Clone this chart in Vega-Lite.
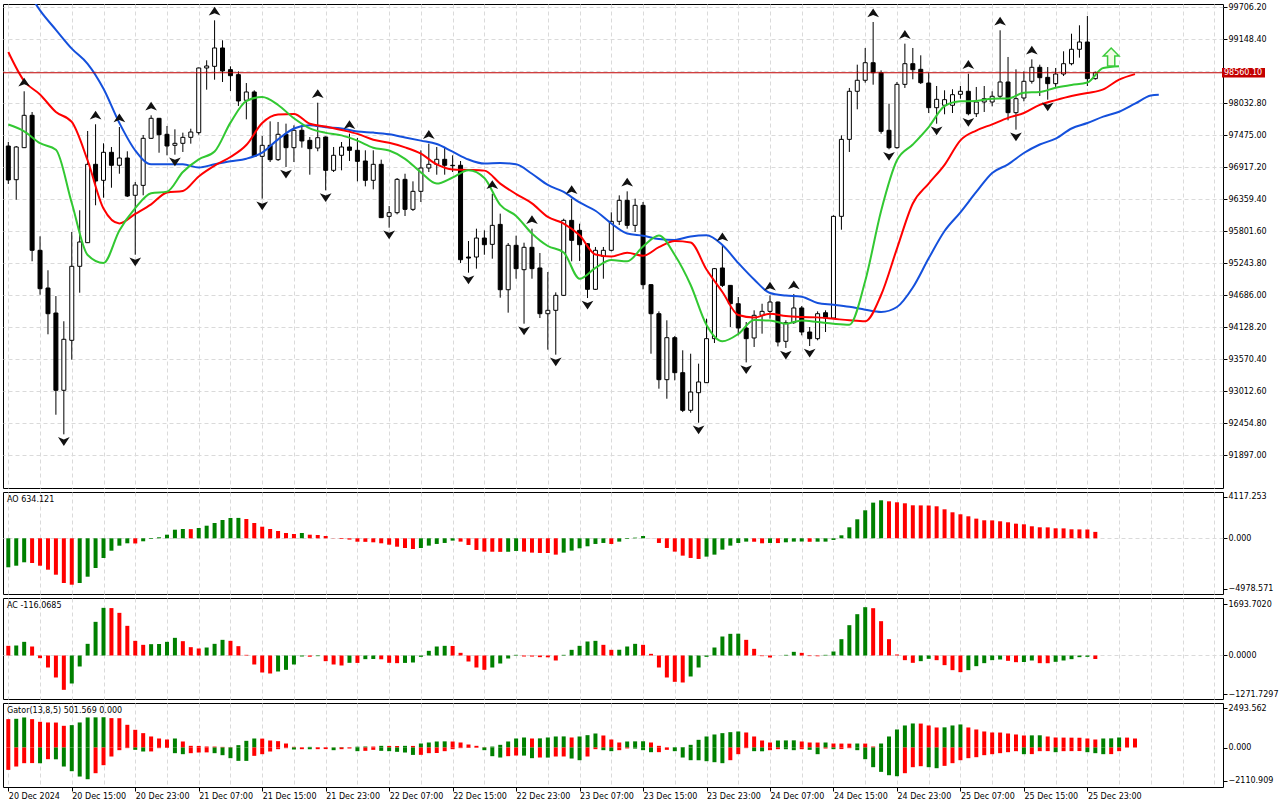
{
  "$schema": "https://vega.github.io/schema/vega-lite/v6.json",
  "background": "white",
  "padding": {"left": 2, "top": 2, "right": 0, "bottom": 0},
  "spacing": 2,
  "config": {
    "view": {"stroke": "black", "strokeWidth": 1},
    "axis": {"labelFont": "DejaVu Sans", "labelFontSize": 8, "labelColor": "black", "tickColor": "black", "gridColor": "#DADADA", "gridDash": [4, 3], "labelOverlap": false},
    "title": {"font": "DejaVu Sans", "fontSize": 8, "fontWeight": "normal", "color": "black", "anchor": "start", "offset": -12, "dx": 4}
  },
  "datasets": {
    "bars": [
      {"t":"2024-12-20T07:00Z","o":97283,"h":97353,"l":96621,"c":96691,"ao":-2865,"ac":319},
      {"t":"2024-12-20T08:00Z","o":96696,"h":97283,"l":96347,"c":97266,"ao":-2707,"ac":330},
      {"t":"2024-12-20T09:00Z","o":97254,"h":98237,"l":97248,"c":97818,"ao":-2371,"ac":451,"fu":1},
      {"t":"2024-12-20T10:00Z","o":97818,"h":97876,"l":95274,"c":95465,"ao":-2440,"ac":297},
      {"t":"2024-12-20T11:00Z","o":95465,"h":95709,"l":94691,"c":94796,"ao":-2707,"ac":-88},
      {"t":"2024-12-20T12:00Z","o":94808,"h":95117,"l":94001,"c":94360,"ao":-3102,"ac":-396},
      {"t":"2024-12-20T13:00Z","o":94372,"h":94668,"l":92599,"c":93025,"ao":-3596,"ac":-726},
      {"t":"2024-12-20T14:00Z","o":93025,"h":94228,"l":92257,"c":93914,"ao":-4416,"ac":-1133,"fd":1},
      {"t":"2024-12-20T15:00Z","o":93896,"h":95784,"l":93559,"c":95186,"ao":-4584,"ac":-924},
      {"t":"2024-12-20T16:00Z","o":95186,"h":96163,"l":94726,"c":95610,"ao":-4416,"ac":-363},
      {"t":"2024-12-20T17:00Z","o":95598,"h":97545,"l":95592,"c":96964,"ao":-3794,"ac":385},
      {"t":"2024-12-20T18:00Z","o":96964,"h":97662,"l":96250,"c":96673,"ao":-2934,"ac":1111,"fu":1},
      {"t":"2024-12-20T19:00Z","o":96685,"h":97330,"l":96382,"c":97173,"ao":-1946,"ac":1573},
      {"t":"2024-12-20T20:00Z","o":97173,"h":97266,"l":96556,"c":96947,"ao":-1225,"ac":1565},
      {"t":"2024-12-20T21:00Z","o":96947,"h":97614,"l":96800,"c":97074,"ao":-731,"ac":1408,"fu":1},
      {"t":"2024-12-20T22:00Z","o":97074,"h":97191,"l":96394,"c":96411,"ao":-494,"ac":979},
      {"t":"2024-12-20T23:00Z","o":96424,"h":96655,"l":95388,"c":96603,"ao":-510,"ac":484,"fd":1},
      {"t":"2024-12-21T00:00Z","o":96597,"h":97475,"l":96424,"c":97417,"ao":-296,"ac":352},
      {"t":"2024-12-21T01:00Z","o":97417,"h":97818,"l":97405,"c":97766,"ao":-69,"ac":374,"fu":1},
      {"t":"2024-12-21T02:00Z","o":97766,"h":97772,"l":97166,"c":97480,"ao":99,"ac":380},
      {"t":"2024-12-21T03:00Z","o":97487,"h":97632,"l":97121,"c":97283,"ao":356,"ac":451},
      {"t":"2024-12-21T04:00Z","o":97295,"h":97574,"l":97132,"c":97330,"ao":850,"ac":583,"fd":1},
      {"t":"2024-12-21T05:00Z","o":97330,"h":97516,"l":97179,"c":97434,"ao":919,"ac":473},
      {"t":"2024-12-21T06:00Z","o":97434,"h":97585,"l":97324,"c":97527,"ao":905,"ac":275},
      {"t":"2024-12-21T07:00Z","o":97516,"h":98650,"l":97480,"c":98643,"ao":1018,"ac":231},
      {"t":"2024-12-21T08:00Z","o":98643,"h":98777,"l":98265,"c":98678,"ao":1245,"ac":264},
      {"t":"2024-12-21T09:00Z","o":98672,"h":99474,"l":98439,"c":98992,"ao":1512,"ac":385,"fu":1},
      {"t":"2024-12-21T10:00Z","o":98992,"h":99126,"l":98399,"c":98591,"ao":1808,"ac":517},
      {"t":"2024-12-21T11:00Z","o":98614,"h":98672,"l":98242,"c":98509,"ao":2006,"ac":484},
      {"t":"2024-12-21T12:00Z","o":98527,"h":98585,"l":97981,"c":98068,"ao":2015,"ac":308},
      {"t":"2024-12-21T13:00Z","o":98080,"h":98381,"l":97748,"c":98225,"ao":1907,"ac":22},
      {"t":"2024-12-21T14:00Z","o":98225,"h":98254,"l":97091,"c":97103,"ao":1512,"ac":-297},
      {"t":"2024-12-21T15:00Z","o":97103,"h":97458,"l":96365,"c":97295,"ao":1146,"ac":-561,"fd":1},
      {"t":"2024-12-21T16:00Z","o":97295,"h":97713,"l":97004,"c":97045,"ao":919,"ac":-594},
      {"t":"2024-12-21T17:00Z","o":97045,"h":97702,"l":97022,"c":97487,"ao":721,"ac":-528},
      {"t":"2024-12-21T18:00Z","o":97487,"h":97673,"l":96917,"c":97254,"ao":524,"ac":-473,"fd":1},
      {"t":"2024-12-21T19:00Z","o":97254,"h":97644,"l":97004,"c":97557,"ao":425,"ac":-297},
      {"t":"2024-12-21T20:00Z","o":97557,"h":97614,"l":97254,"c":97371,"ao":524,"ac":-33},
      {"t":"2024-12-21T21:00Z","o":97382,"h":97440,"l":96783,"c":97237,"ao":356,"ac":-40},
      {"t":"2024-12-21T22:00Z","o":97248,"h":98038,"l":97191,"c":97428,"ao":326,"ac":-22,"fu":1},
      {"t":"2024-12-21T23:00Z","o":97440,"h":97450,"l":96510,"c":96859,"ao":227,"ac":-187,"fd":1},
      {"t":"2024-12-22T00:00Z","o":96859,"h":97266,"l":96830,"c":97121,"ao":-20,"ac":-297},
      {"t":"2024-12-22T01:00Z","o":97121,"h":97353,"l":96859,"c":97266,"ao":-69,"ac":-330},
      {"t":"2024-12-22T02:00Z","o":97266,"h":97498,"l":97022,"c":97208,"ao":-130,"ac":-242,"fu":1},
      {"t":"2024-12-22T03:00Z","o":97208,"h":97423,"l":96667,"c":97016,"ao":-336,"ac":-245},
      {"t":"2024-12-22T04:00Z","o":97022,"h":97208,"l":96580,"c":96685,"ao":-350,"ac":-121},
      {"t":"2024-12-22T05:00Z","o":96685,"h":97208,"l":96528,"c":96964,"ao":-395,"ac":-115},
      {"t":"2024-12-22T06:00Z","o":96964,"h":97045,"l":96028,"c":96034,"ao":-494,"ac":-125},
      {"t":"2024-12-22T07:00Z","o":96057,"h":96237,"l":95859,"c":96121,"ao":-632,"ac":-242,"fd":1},
      {"t":"2024-12-22T08:00Z","o":96121,"h":96725,"l":96092,"c":96702,"ao":-830,"ac":-253},
      {"t":"2024-12-22T09:00Z","o":96702,"h":96800,"l":96063,"c":96179,"ao":-958,"ac":-245},
      {"t":"2024-12-22T10:00Z","o":96179,"h":96667,"l":96150,"c":96493,"ao":-1057,"ac":-231},
      {"t":"2024-12-22T11:00Z","o":96493,"h":97208,"l":96307,"c":96900,"ao":-958,"ac":-44},
      {"t":"2024-12-22T12:00Z","o":96900,"h":97324,"l":96830,"c":96964,"ao":-724,"ac":154,"fu":1},
      {"t":"2024-12-22T13:00Z","o":96964,"h":97266,"l":96783,"c":97051,"ao":-560,"ac":297},
      {"t":"2024-12-22T14:00Z","o":97051,"h":97249,"l":96783,"c":96947,"ao":-461,"ac":319},
      {"t":"2024-12-22T15:00Z","o":96947,"h":97121,"l":96830,"c":96940,"ao":-230,"ac":315},
      {"t":"2024-12-22T16:00Z","o":96947,"h":97022,"l":95244,"c":95301,"ao":-329,"ac":88},
      {"t":"2024-12-22T17:00Z","o":95348,"h":95627,"l":95075,"c":95330,"ao":-659,"ac":-198,"fd":1},
      {"t":"2024-12-22T18:00Z","o":95348,"h":95842,"l":95145,"c":95679,"ao":-1153,"ac":-396},
      {"t":"2024-12-22T19:00Z","o":95679,"h":95813,"l":95388,"c":95563,"ao":-1317,"ac":-473},
      {"t":"2024-12-22T20:00Z","o":95569,"h":96452,"l":95319,"c":95900,"ao":-1325,"ac":-396,"fu":1},
      {"t":"2024-12-22T21:00Z","o":95917,"h":96104,"l":94639,"c":94778,"ao":-1340,"ac":-264},
      {"t":"2024-12-22T22:00Z","o":94778,"h":95592,"l":94378,"c":95552,"ao":-1330,"ac":-99},
      {"t":"2024-12-22T23:00Z","o":95552,"h":95720,"l":94970,"c":95145,"ao":-1251,"ac":22},
      {"t":"2024-12-23T00:00Z","o":95127,"h":95598,"l":94186,"c":95517,"ao":-1317,"ac":-33,"fd":1},
      {"t":"2024-12-23T01:00Z","o":95517,"h":95842,"l":94970,"c":95145,"ao":-1416,"ac":-35,"fu":1},
      {"t":"2024-12-23T02:00Z","o":95157,"h":95418,"l":94285,"c":94360,"ao":-1449,"ac":-55},
      {"t":"2024-12-23T03:00Z","o":94360,"h":95087,"l":93733,"c":94419,"ao":-1455,"ac":-60},
      {"t":"2024-12-23T04:00Z","o":94419,"h":94732,"l":93646,"c":94680,"ao":-1614,"ac":-165,"fd":1},
      {"t":"2024-12-23T05:00Z","o":94680,"h":96016,"l":94668,"c":95987,"ao":-1416,"ac":22},
      {"t":"2024-12-23T06:00Z","o":95987,"h":96365,"l":95273,"c":95639,"ao":-1219,"ac":187,"fu":1},
      {"t":"2024-12-23T07:00Z","o":95813,"h":95929,"l":95279,"c":95563,"ao":-988,"ac":319},
      {"t":"2024-12-23T08:00Z","o":95580,"h":95592,"l":94633,"c":94785,"ao":-790,"ac":462,"fd":1},
      {"t":"2024-12-23T09:00Z","o":94785,"h":95523,"l":94773,"c":95465,"ao":-560,"ac":484},
      {"t":"2024-12-23T10:00Z","o":95360,"h":95523,"l":94970,"c":95465,"ao":-461,"ac":352},
      {"t":"2024-12-23T11:00Z","o":95465,"h":96127,"l":95447,"c":95970,"ao":-560,"ac":187},
      {"t":"2024-12-23T12:00Z","o":95970,"h":96423,"l":95906,"c":96336,"ao":-329,"ac":190},
      {"t":"2024-12-23T13:00Z","o":96336,"h":96493,"l":95842,"c":95900,"ao":-66,"ac":297,"fu":1},
      {"t":"2024-12-23T14:00Z","o":95900,"h":96365,"l":95784,"c":96249,"ao":66,"ac":385},
      {"t":"2024-12-23T15:00Z","o":96249,"h":96307,"l":94785,"c":94866,"ao":230,"ac":352},
      {"t":"2024-12-23T16:00Z","o":94866,"h":94877,"l":93663,"c":94360,"ao":10,"ac":55},
      {"t":"2024-12-23T17:00Z","o":94360,"h":94401,"l":93053,"c":93210,"ao":-461,"ac":-396},
      {"t":"2024-12-23T18:00Z","o":93210,"h":94245,"l":92878,"c":93942,"ao":-955,"ac":-726},
      {"t":"2024-12-23T19:00Z","o":93942,"h":93971,"l":93198,"c":93332,"ao":-1317,"ac":-869},
      {"t":"2024-12-23T20:00Z","o":93332,"h":93722,"l":92646,"c":92676,"ao":-1713,"ac":-891},
      {"t":"2024-12-23T21:00Z","o":92676,"h":93663,"l":92634,"c":92995,"ao":-1943,"ac":-693},
      {"t":"2024-12-23T22:00Z","o":92983,"h":93489,"l":92460,"c":93170,"ao":-2042,"ac":-396,"fd":1},
      {"t":"2024-12-23T23:00Z","o":93158,"h":94273,"l":93153,"c":93925,"ao":-1811,"ac":-44},
      {"t":"2024-12-24T00:00Z","o":93925,"h":95157,"l":93849,"c":95145,"ao":-1614,"ac":264},
      {"t":"2024-12-24T01:00Z","o":95157,"h":95540,"l":94825,"c":94854,"ao":-1120,"ac":627,"fu":1},
      {"t":"2024-12-24T02:00Z","o":94854,"h":94860,"l":94128,"c":94534,"ao":-724,"ac":715},
      {"t":"2024-12-24T03:00Z","o":94534,"h":94651,"l":93983,"c":94111,"ao":-461,"ac":720},
      {"t":"2024-12-24T04:00Z","o":94111,"h":94215,"l":93511,"c":93925,"ao":-329,"ac":517,"fd":1},
      {"t":"2024-12-24T05:00Z","o":93937,"h":94419,"l":93780,"c":94332,"ao":-340,"ac":220},
      {"t":"2024-12-24T06:00Z","o":94332,"h":94534,"l":94012,"c":94401,"ao":-494,"ac":-22},
      {"t":"2024-12-24T07:00Z","o":94401,"h":94680,"l":94273,"c":94564,"ao":-461,"ac":-66,"fu":1},
      {"t":"2024-12-24T08:00Z","o":94564,"h":94570,"l":93790,"c":93867,"ao":-470,"ac":0},
      {"t":"2024-12-24T09:00Z","o":93879,"h":94245,"l":93763,"c":94204,"ao":-395,"ac":22,"fd":1},
      {"t":"2024-12-24T10:00Z","o":94204,"h":94703,"l":94181,"c":94460,"ao":-329,"ac":121,"fu":1},
      {"t":"2024-12-24T11:00Z","o":94460,"h":94494,"l":93983,"c":94041,"ao":-320,"ac":88},
      {"t":"2024-12-24T12:00Z","o":94041,"h":94128,"l":93797,"c":93925,"ao":-345,"ac":-20,"fd":1},
      {"t":"2024-12-24T13:00Z","o":93925,"h":94401,"l":93896,"c":94360,"ao":-335,"ac":-25},
      {"t":"2024-12-24T14:00Z","o":94377,"h":94419,"l":94041,"c":94285,"ao":-330,"ac":22},
      {"t":"2024-12-24T15:00Z","o":94285,"h":96075,"l":94273,"c":96057,"ao":-165,"ac":132},
      {"t":"2024-12-24T16:00Z","o":96057,"h":97469,"l":95824,"c":97399,"ao":296,"ac":539},
      {"t":"2024-12-24T17:00Z","o":97399,"h":98295,"l":97179,"c":98237,"ao":1087,"ac":1001},
      {"t":"2024-12-24T18:00Z","o":98237,"h":98701,"l":97923,"c":98429,"ao":1877,"ac":1364},
      {"t":"2024-12-24T19:00Z","o":98429,"h":98992,"l":98387,"c":98735,"ao":2766,"ac":1595},
      {"t":"2024-12-24T20:00Z","o":98735,"h":99445,"l":98352,"c":98561,"ao":3524,"ac":1562,"fu":1},
      {"t":"2024-12-24T21:00Z","o":98561,"h":98602,"l":97498,"c":97539,"ao":3754,"ac":1133},
      {"t":"2024-12-24T22:00Z","o":97557,"h":98021,"l":97226,"c":97254,"ao":3655,"ac":539,"fd":1},
      {"t":"2024-12-24T23:00Z","o":97254,"h":98399,"l":97237,"c":98358,"ao":3557,"ac":33},
      {"t":"2024-12-25T00:00Z","o":98358,"h":99067,"l":98295,"c":98718,"ao":3458,"ac":-154,"fu":1},
      {"t":"2024-12-25T01:00Z","o":98718,"h":98992,"l":98446,"c":98613,"ao":3260,"ac":-242},
      {"t":"2024-12-25T02:00Z","o":98620,"h":98864,"l":98364,"c":98387,"ao":3250,"ac":-187},
      {"t":"2024-12-25T03:00Z","o":98381,"h":98561,"l":97858,"c":97951,"ao":3240,"ac":-110},
      {"t":"2024-12-25T04:00Z","o":97951,"h":98329,"l":97672,"c":98097,"ao":3162,"ac":-154,"fd":1},
      {"t":"2024-12-25T05:00Z","o":97993,"h":98254,"l":97836,"c":98091,"ao":2865,"ac":-319},
      {"t":"2024-12-25T06:00Z","o":97993,"h":98272,"l":97858,"c":98178,"ao":2569,"ac":-484},
      {"t":"2024-12-25T07:00Z","o":98184,"h":98329,"l":98108,"c":98237,"ao":2371,"ac":-550},
      {"t":"2024-12-25T08:00Z","o":98237,"h":98544,"l":97818,"c":97846,"ao":2174,"ac":-484,"fu":1,"fd":1},
      {"t":"2024-12-25T09:00Z","o":97846,"h":98312,"l":97789,"c":98050,"ao":1943,"ac":-352},
      {"t":"2024-12-25T10:00Z","o":98050,"h":98329,"l":97876,"c":98108,"ao":1778,"ac":-253},
      {"t":"2024-12-25T11:00Z","o":98050,"h":98237,"l":97975,"c":98150,"ao":1770,"ac":-154},
      {"t":"2024-12-25T12:00Z","o":98150,"h":99300,"l":98108,"c":98399,"ao":1680,"ac":-132,"fu":1},
      {"t":"2024-12-25T13:00Z","o":98399,"h":98835,"l":97731,"c":97864,"ao":1581,"ac":-176},
      {"t":"2024-12-25T14:00Z","o":97864,"h":98620,"l":97568,"c":98108,"ao":1449,"ac":-220,"fd":1},
      {"t":"2024-12-25T15:00Z","o":98120,"h":98585,"l":98062,"c":98411,"ao":1383,"ac":-215},
      {"t":"2024-12-25T16:00Z","o":98411,"h":98794,"l":98370,"c":98655,"ao":1186,"ac":-165,"fu":1},
      {"t":"2024-12-25T17:00Z","o":98655,"h":98701,"l":98155,"c":98474,"ao":1087,"ac":-253},
      {"t":"2024-12-25T18:00Z","o":98480,"h":98660,"l":98091,"c":98370,"ao":1080,"ac":-255,"fd":1},
      {"t":"2024-12-25T19:00Z","o":98370,"h":98643,"l":98312,"c":98538,"ao":988,"ac":-209},
      {"t":"2024-12-25T20:00Z","o":98538,"h":98934,"l":98503,"c":98718,"ao":980,"ac":-165},
      {"t":"2024-12-25T21:00Z","o":98718,"h":99241,"l":98690,"c":98969,"ao":889,"ac":-121},
      {"t":"2024-12-25T22:00Z","o":98969,"h":99387,"l":98823,"c":99096,"ao":880,"ac":-55},
      {"t":"2024-12-25T23:00Z","o":99096,"h":99549,"l":98329,"c":98457,"ao":870,"ac":-44},
      {"t":"2024-12-26T00:00Z","o":98457,"h":98580,"l":98440,"c":98560.1,"ao":634.121,"ac":-116.0685}
    ],
    "gator": [
      {"t":"2024-12-20T07:00Z","gu":1802,"gd":-1420},{"t":"2024-12-20T08:00Z","gu":1823,"gd":-1208},{"t":"2024-12-20T09:00Z","gu":1908,"gd":-996},{"t":"2024-12-20T10:00Z","gu":1802,"gd":-990},
      {"t":"2024-12-20T11:00Z","gu":1632,"gd":-1000},{"t":"2024-12-20T12:00Z","gu":1590,"gd":-742},{"t":"2024-12-20T13:00Z","gu":1585,"gd":-750},{"t":"2024-12-20T14:00Z","gu":1378,"gd":-1208},
      {"t":"2024-12-20T15:00Z","gu":1420,"gd":-1505},{"t":"2024-12-20T16:00Z","gu":1590,"gd":-1844},{"t":"2024-12-20T17:00Z","gu":1908,"gd":-2014},{"t":"2024-12-20T18:00Z","gu":1915,"gd":-1632},
      {"t":"2024-12-20T19:00Z","gu":1922,"gd":-1124},{"t":"2024-12-20T20:00Z","gu":1866,"gd":-572},{"t":"2024-12-20T21:00Z","gu":1860,"gd":-170},{"t":"2024-12-20T22:00Z","gu":1442,"gd":-40},
      {"t":"2024-12-20T23:00Z","gu":1124,"gd":-148},{"t":"2024-12-21T00:00Z","gu":912,"gd":-254},{"t":"2024-12-21T01:00Z","gu":700,"gd":-250},{"t":"2024-12-21T02:00Z","gu":572,"gd":-42},
      {"t":"2024-12-21T03:00Z","gu":509,"gd":-30},{"t":"2024-12-21T04:00Z","gu":572,"gd":-360},{"t":"2024-12-21T05:00Z","gu":382,"gd":-424},{"t":"2024-12-21T06:00Z","gu":106,"gd":-360},
      {"t":"2024-12-21T07:00Z","gu":100,"gd":-318},{"t":"2024-12-21T08:00Z","gu":64,"gd":-310},{"t":"2024-12-21T09:00Z","gu":60,"gd":-360},{"t":"2024-12-21T10:00Z","gu":40,"gd":-488},
      {"t":"2024-12-21T11:00Z","gu":20,"gd":-678},{"t":"2024-12-21T12:00Z","gu":150,"gd":-848},{"t":"2024-12-21T13:00Z","gu":424,"gd":-850},{"t":"2024-12-21T14:00Z","gu":572,"gd":-530},
      {"t":"2024-12-21T15:00Z","gu":565,"gd":-424},{"t":"2024-12-21T16:00Z","gu":445,"gd":-254},{"t":"2024-12-21T17:00Z","gu":403,"gd":-106},{"t":"2024-12-21T18:00Z","gu":254,"gd":-42},
      {"t":"2024-12-21T19:00Z","gu":42,"gd":-127},{"t":"2024-12-21T20:00Z","gu":15,"gd":-106},{"t":"2024-12-21T21:00Z","gu":40,"gd":-110},{"t":"2024-12-21T22:00Z","gu":25,"gd":-106},
      {"t":"2024-12-21T23:00Z","gu":20,"gd":-100},{"t":"2024-12-22T00:00Z","gu":10,"gd":-170},{"t":"2024-12-22T01:00Z","gu":30,"gd":-106},{"t":"2024-12-22T02:00Z","gu":20,"gd":-64},
      {"t":"2024-12-22T03:00Z","gu":50,"gd":-233},{"t":"2024-12-22T04:00Z","gu":64,"gd":-212},{"t":"2024-12-22T05:00Z","gu":60,"gd":-150},{"t":"2024-12-22T06:00Z","gu":106,"gd":-212},
      {"t":"2024-12-22T07:00Z","gu":100,"gd":-233},{"t":"2024-12-22T08:00Z","gu":95,"gd":-275},{"t":"2024-12-22T09:00Z","gu":106,"gd":-318},{"t":"2024-12-22T10:00Z","gu":100,"gd":-470},
      {"t":"2024-12-22T11:00Z","gu":254,"gd":-466},{"t":"2024-12-22T12:00Z","gu":318,"gd":-360},{"t":"2024-12-22T13:00Z","gu":382,"gd":-350},{"t":"2024-12-22T14:00Z","gu":390,"gd":-233},
      {"t":"2024-12-22T15:00Z","gu":380,"gd":-106},{"t":"2024-12-22T16:00Z","gu":318,"gd":-40},{"t":"2024-12-22T17:00Z","gu":191,"gd":-30},{"t":"2024-12-22T18:00Z","gu":106,"gd":-20},
      {"t":"2024-12-22T19:00Z","gu":20,"gd":-170},{"t":"2024-12-22T20:00Z","gu":60,"gd":-551},{"t":"2024-12-22T21:00Z","gu":170,"gd":-636},{"t":"2024-12-22T22:00Z","gu":382,"gd":-551},
      {"t":"2024-12-22T23:00Z","gu":572,"gd":-509},{"t":"2024-12-23T00:00Z","gu":636,"gd":-515},{"t":"2024-12-23T01:00Z","gu":572,"gd":-678},{"t":"2024-12-23T02:00Z","gu":580,"gd":-636},
      {"t":"2024-12-23T03:00Z","gu":636,"gd":-640},{"t":"2024-12-23T04:00Z","gu":700,"gd":-572},{"t":"2024-12-23T05:00Z","gu":705,"gd":-570},{"t":"2024-12-23T06:00Z","gu":636,"gd":-700},
      {"t":"2024-12-23T07:00Z","gu":700,"gd":-806},{"t":"2024-12-23T08:00Z","gu":784,"gd":-572},{"t":"2024-12-23T09:00Z","gu":890,"gd":-106},{"t":"2024-12-23T10:00Z","gu":763,"gd":-170},
      {"t":"2024-12-23T11:00Z","gu":509,"gd":-233},{"t":"2024-12-23T12:00Z","gu":318,"gd":-170},{"t":"2024-12-23T13:00Z","gu":382,"gd":-60},{"t":"2024-12-23T14:00Z","gu":390,"gd":-70},
      {"t":"2024-12-23T15:00Z","gu":395,"gd":-170},{"t":"2024-12-23T16:00Z","gu":318,"gd":-297},{"t":"2024-12-23T17:00Z","gu":106,"gd":-295},{"t":"2024-12-23T18:00Z","gu":10,"gd":-148},
      {"t":"2024-12-23T19:00Z","gu":20,"gd":-233},{"t":"2024-12-23T20:00Z","gu":30,"gd":-636},{"t":"2024-12-23T21:00Z","gu":170,"gd":-806},{"t":"2024-12-23T22:00Z","gu":488,"gd":-810},
      {"t":"2024-12-23T23:00Z","gu":700,"gd":-869},{"t":"2024-12-24T00:00Z","gu":827,"gd":-933},{"t":"2024-12-24T01:00Z","gu":912,"gd":-996},{"t":"2024-12-24T02:00Z","gu":975,"gd":-806},
      {"t":"2024-12-24T03:00Z","gu":1018,"gd":-424},{"t":"2024-12-24T04:00Z","gu":954,"gd":-40},{"t":"2024-12-24T05:00Z","gu":700,"gd":-233},{"t":"2024-12-24T06:00Z","gu":445,"gd":-240},
      {"t":"2024-12-24T07:00Z","gu":318,"gd":-170},{"t":"2024-12-24T08:00Z","gu":445,"gd":-106},{"t":"2024-12-24T09:00Z","gu":450,"gd":-110},{"t":"2024-12-24T10:00Z","gu":455,"gd":-170},
      {"t":"2024-12-24T11:00Z","gu":382,"gd":-106},{"t":"2024-12-24T12:00Z","gu":318,"gd":-148},{"t":"2024-12-24T13:00Z","gu":315,"gd":-424},{"t":"2024-12-24T14:00Z","gu":318,"gd":-64},
      {"t":"2024-12-24T15:00Z","gu":254,"gd":-106},{"t":"2024-12-24T16:00Z","gu":250,"gd":-100},{"t":"2024-12-24T17:00Z","gu":245,"gd":-42},{"t":"2024-12-24T18:00Z","gu":254,"gd":-170},
      {"t":"2024-12-24T19:00Z","gu":250,"gd":-742},{"t":"2024-12-24T20:00Z","gu":64,"gd":-1250},{"t":"2024-12-24T21:00Z","gu":254,"gd":-1547},{"t":"2024-12-24T22:00Z","gu":700,"gd":-1760},
      {"t":"2024-12-24T23:00Z","gu":1145,"gd":-1823},{"t":"2024-12-25T00:00Z","gu":1399,"gd":-1632},{"t":"2024-12-25T01:00Z","gu":1526,"gd":-1250},{"t":"2024-12-25T02:00Z","gu":1520,"gd":-1187},
      {"t":"2024-12-25T03:00Z","gu":1399,"gd":-1250},{"t":"2024-12-25T04:00Z","gu":1272,"gd":-1314},{"t":"2024-12-25T05:00Z","gu":1280,"gd":-1166},{"t":"2024-12-25T06:00Z","gu":1399,"gd":-996},
      {"t":"2024-12-25T07:00Z","gu":1463,"gd":-806},{"t":"2024-12-25T08:00Z","gu":1272,"gd":-678},{"t":"2024-12-25T09:00Z","gu":1145,"gd":-615},{"t":"2024-12-25T10:00Z","gu":1018,"gd":-488},
      {"t":"2024-12-25T11:00Z","gu":954,"gd":-424},{"t":"2024-12-25T12:00Z","gu":950,"gd":-360},{"t":"2024-12-25T13:00Z","gu":890,"gd":-297},{"t":"2024-12-25T14:00Z","gu":827,"gd":-233},
      {"t":"2024-12-25T15:00Z","gu":763,"gd":-424},{"t":"2024-12-25T16:00Z","gu":770,"gd":-420},{"t":"2024-12-25T17:00Z","gu":775,"gd":-233},{"t":"2024-12-25T18:00Z","gu":700,"gd":-230},
      {"t":"2024-12-25T19:00Z","gu":636,"gd":-297},{"t":"2024-12-25T20:00Z","gu":630,"gd":-233},{"t":"2024-12-25T21:00Z","gu":625,"gd":-230},{"t":"2024-12-25T22:00Z","gu":620,"gd":-225},
      {"t":"2024-12-25T23:00Z","gu":572,"gd":-297},{"t":"2024-12-26T00:00Z","gu":509,"gd":-360},{"t":"2024-12-26T01:00Z","gu":572,"gd":-424},{"t":"2024-12-26T02:00Z","gu":580,"gd":-420},
      {"t":"2024-12-26T03:00Z","gu":636,"gd":-233},{"t":"2024-12-26T04:00Z","gu":630},{"t":"2024-12-26T05:00Z","gu":572}
    ],
    "lines": [
      {"t":"2024-12-20T07:00Z","jaw":100543,"teeth":98922,"lips":97658},
      {"t":"2024-12-20T09:00Z","jaw":100090,"teeth":98416,"lips":97540},
      {"t":"2024-12-20T11:00Z","jaw":99647,"teeth":98181,"lips":97332},
      {"t":"2024-12-20T13:00Z","jaw":99309,"teeth":97876,"lips":97219},
      {"t":"2024-12-20T15:00Z","jaw":98981,"teeth":97702,"lips":96290},
      {"t":"2024-12-20T17:00Z","jaw":98716,"teeth":97030,"lips":95383},
      {"t":"2024-12-20T19:00Z","jaw":98281,"teeth":96193,"lips":95244},
      {"t":"2024-12-20T21:00Z","jaw":97684,"teeth":95934,"lips":95810},
      {"t":"2024-12-20T23:00Z","jaw":97205,"teeth":96099,"lips":96199},
      {"t":"2024-12-21T01:00Z","jaw":96964,"teeth":96267,"lips":96460},
      {"t":"2024-12-21T03:00Z","jaw":96964,"teeth":96473,"lips":96488},
      {"t":"2024-12-21T05:00Z","jaw":96964,"teeth":96499,"lips":96830},
      {"t":"2024-12-21T07:00Z","jaw":96909,"teeth":96753,"lips":97051},
      {"t":"2024-12-21T09:00Z","jaw":96964,"teeth":96941,"lips":97187},
      {"t":"2024-12-21T11:00Z","jaw":97016,"teeth":97091,"lips":97691},
      {"t":"2024-12-21T13:00Z","jaw":97062,"teeth":97300,"lips":98067},
      {"t":"2024-12-21T15:00Z","jaw":97168,"teeth":97684,"lips":98137},
      {"t":"2024-12-21T17:00Z","jaw":97398,"teeth":97832,"lips":97998},
      {"t":"2024-12-21T19:00Z","jaw":97588,"teeth":97842,"lips":97766},
      {"t":"2024-12-21T21:00Z","jaw":97646,"teeth":97672,"lips":97590},
      {"t":"2024-12-21T23:00Z","jaw":97609,"teeth":97623,"lips":97512},
      {"t":"2024-12-22T01:00Z","jaw":97587,"teeth":97562,"lips":97468},
      {"t":"2024-12-22T03:00Z","jaw":97536,"teeth":97494,"lips":97376},
      {"t":"2024-12-22T05:00Z","jaw":97517,"teeth":97393,"lips":97254},
      {"t":"2024-12-22T07:00Z","jaw":97487,"teeth":97339,"lips":97204},
      {"t":"2024-12-22T09:00Z","jaw":97433,"teeth":97260,"lips":97060},
      {"t":"2024-12-22T11:00Z","jaw":97377,"teeth":97150,"lips":96823},
      {"t":"2024-12-22T13:00Z","jaw":97318,"teeth":96962,"lips":96628},
      {"t":"2024-12-22T15:00Z","jaw":97184,"teeth":96873,"lips":96734},
      {"t":"2024-12-22T17:00Z","jaw":97048,"teeth":96866,"lips":96860},
      {"t":"2024-12-22T19:00Z","jaw":96978,"teeth":96854,"lips":96725},
      {"t":"2024-12-22T21:00Z","jaw":96987,"teeth":96628,"lips":96258},
      {"t":"2024-12-22T23:00Z","jaw":96966,"teeth":96446,"lips":96065},
      {"t":"2024-12-23T01:00Z","jaw":96799,"teeth":96284,"lips":95758},
      {"t":"2024-12-23T03:00Z","jaw":96604,"teeth":96047,"lips":95540},
      {"t":"2024-12-23T05:00Z","jaw":96482,"teeth":95932,"lips":95427},
      {"t":"2024-12-23T07:00Z","jaw":96299,"teeth":95727,"lips":94970},
      {"t":"2024-12-23T09:00Z","jaw":96154,"teeth":95392,"lips":95157},
      {"t":"2024-12-23T11:00Z","jaw":95933,"teeth":95357,"lips":95296},
      {"t":"2024-12-23T13:00Z","jaw":95757,"teeth":95422,"lips":95273},
      {"t":"2024-12-23T15:00Z","jaw":95719,"teeth":95369,"lips":95531},
      {"t":"2024-12-23T17:00Z","jaw":95663,"teeth":95519,"lips":95723},
      {"t":"2024-12-23T19:00Z","jaw":95646,"teeth":95627,"lips":95383},
      {"t":"2024-12-23T21:00Z","jaw":95707,"teeth":95601,"lips":94860},
      {"t":"2024-12-23T23:00Z","jaw":95727,"teeth":95130,"lips":94163},
      {"t":"2024-12-24T01:00Z","jaw":95558,"teeth":94738,"lips":93879},
      {"t":"2024-12-24T03:00Z","jaw":95244,"teeth":94337,"lips":94006},
      {"t":"2024-12-24T05:00Z","jaw":94956,"teeth":94294,"lips":94250},
      {"t":"2024-12-24T07:00Z","jaw":94721,"teeth":94360,"lips":94241},
      {"t":"2024-12-24T09:00Z","jaw":94677,"teeth":94320,"lips":94187},
      {"t":"2024-12-24T11:00Z","jaw":94655,"teeth":94303,"lips":94241},
      {"t":"2024-12-24T13:00Z","jaw":94547,"teeth":94296,"lips":94215},
      {"t":"2024-12-24T15:00Z","jaw":94517,"teeth":94271,"lips":94186},
      {"t":"2024-12-24T17:00Z","jaw":94481,"teeth":94245,"lips":94169},
      {"t":"2024-12-24T19:00Z","jaw":94430,"teeth":94228,"lips":94931},
      {"t":"2024-12-24T21:00Z","jaw":94390,"teeth":94686,"lips":96151},
      {"t":"2024-12-24T23:00Z","jaw":94477,"teeth":95495,"lips":97034},
      {"t":"2024-12-25T01:00Z","jaw":94817,"teeth":96282,"lips":97309},
      {"t":"2024-12-25T03:00Z","jaw":95326,"teeth":96629,"lips":97614},
      {"t":"2024-12-25T05:00Z","jaw":95802,"teeth":96955,"lips":97980},
      {"t":"2024-12-25T07:00Z","jaw":96128,"teeth":97382,"lips":98062},
      {"t":"2024-12-25T09:00Z","jaw":96482,"teeth":97553,"lips":98068},
      {"t":"2024-12-25T11:00Z","jaw":96813,"teeth":97661,"lips":98108},
      {"t":"2024-12-25T13:00Z","jaw":96964,"teeth":97774,"lips":98111},
      {"t":"2024-12-25T15:00Z","jaw":97161,"teeth":97858,"lips":98212},
      {"t":"2024-12-25T17:00Z","jaw":97309,"teeth":98001,"lips":98225},
      {"t":"2024-12-25T19:00Z","jaw":97411,"teeth":98083,"lips":98300},
      {"t":"2024-12-25T21:00Z","jaw":97588,"teeth":98155,"lips":98347},
      {"t":"2024-12-25T23:00Z","jaw":97684,"teeth":98207,"lips":98390},
      {"t":"2024-12-26T01:00Z","jaw":97796,"teeth":98271,"lips":98643},
      {"t":"2024-12-26T03:00Z","jaw":97881,"teeth":98440,"lips":98672},
      {"t":"2024-12-26T05:00Z","jaw":98021,"teeth":98536},
      {"t":"2024-12-26T07:00Z","jaw":98163},
      {"t":"2024-12-26T08:00Z","jaw":98177}
    ],
    "signal": [{"t":"2024-12-26T02:00Z","p":98835}]
  },
  "vconcat": [
    {
      "width": 1220,
      "height": 484,
      "data": {"name": "bars"},
      "layer": [
        {
          "mark": {"type": "rule", "color": "black", "strokeWidth": 1},
          "encoding": {
            "x": {"field": "t", "type": "temporal", "scale": {"domain": [1734677865000, 1735226865000], "nice": false},
              "axis": {"values": [1734678000000,1734692400000,1734706800000,1734721200000,1734735600000,1734750000000,1734764400000,1734778800000,1734793200000,1734807600000,1734822000000,1734836400000,1734850800000,1734865200000,1734879600000,1734894000000,1734908400000,1734922800000,1734937200000,1734951600000,1734966000000,1734980400000,1734994800000,1735009200000,1735023600000,1735038000000,1735052400000,1735066800000,1735081200000,1735095600000,1735110000000,1735124400000,1735138800000,1735153200000,1735167600000,1735182000000,1735196400000,1735210800000,1735225200000], "tickCount": 100, "labels": false, "ticks": false, "domain": false, "grid": true, "title": null}},
            "y": {"field": "l", "type": "quantitative", "scale": {"domain": [91321.8, 99758.5], "nice": false, "zero": false},
              "axis": {"orient": "right", "values": [99706.2, 99148.4, 98590.6, 98032.8, 97475, 96917.2, 96359.4, 95801.6, 95243.8, 94686, 94128.2, 93570.4, 93012.6, 92454.8, 91897], "tickCount": 100, "labelExpr": "datum.value == 98590.6 ? '' : format(datum.value, '.2f')", "tickSize": 4, "labelPadding": 1, "grid": true, "domain": false, "labelFlush": false, "labelOverlap": false, "labelBound": false, "title": null}},
            "y2": {"field": "h"}
          }
        },
        {
          "mark": {"type": "bar", "size": 4, "stroke": "black", "strokeWidth": 1},
          "encoding": {
            "x": {"field": "t", "type": "temporal", "scale": {"domain": [1734677865000, 1735226865000], "nice": false}},
            "y": {"field": "o", "type": "quantitative", "scale": {"domain": [91321.8, 99758.5], "nice": false, "zero": false}},
            "y2": {"field": "c"},
            "fill": {"condition": {"test": "datum.c >= datum.o", "value": "white"}, "value": "black"}
          }
        },
        {
          "data": {"name": "lines"},
          "transform": [{"filter": "isValid(datum.jaw)"}],
          "mark": {"type": "line", "color": "#1450DC", "strokeWidth": 2, "clip": true, "interpolate": "monotone"},
          "encoding": {
            "x": {"field": "t", "type": "temporal", "scale": {"domain": [1734677865000, 1735226865000], "nice": false}},
            "y": {"field": "jaw", "type": "quantitative", "scale": {"domain": [91321.8, 99758.5], "nice": false, "zero": false}}
          }
        },
        {
          "data": {"name": "lines"},
          "transform": [{"filter": "isValid(datum.teeth)"}],
          "mark": {"type": "line", "color": "#FF0000", "strokeWidth": 2, "clip": true, "interpolate": "monotone"},
          "encoding": {
            "x": {"field": "t", "type": "temporal", "scale": {"domain": [1734677865000, 1735226865000], "nice": false}},
            "y": {"field": "teeth", "type": "quantitative", "scale": {"domain": [91321.8, 99758.5], "nice": false, "zero": false}}
          }
        },
        {
          "data": {"name": "lines"},
          "transform": [{"filter": "isValid(datum.lips)"}],
          "mark": {"type": "line", "color": "#32C832", "strokeWidth": 2, "clip": true, "interpolate": "monotone"},
          "encoding": {
            "x": {"field": "t", "type": "temporal", "scale": {"domain": [1734677865000, 1735226865000], "nice": false}},
            "y": {"field": "lips", "type": "quantitative", "scale": {"domain": [91321.8, 99758.5], "nice": false, "zero": false}}
          }
        },
        {
          "transform": [{"filter": "datum.fu == 1"}],
          "mark": {"type": "point", "shape": "M0,-0.7L0.9,0.65L0,0.3L-0.9,0.65Z", "size": 169, "filled": true, "color": "#111111", "opacity": 1, "yOffset": -9},
          "encoding": {
            "x": {"field": "t", "type": "temporal", "scale": {"domain": [1734677865000, 1735226865000], "nice": false}},
            "y": {"field": "h", "type": "quantitative", "scale": {"domain": [91321.8, 99758.5], "nice": false, "zero": false}}
          }
        },
        {
          "transform": [{"filter": "datum.fd == 1"}],
          "mark": {"type": "point", "shape": "M0,0.7L0.9,-0.65L0,-0.3L-0.9,-0.65Z", "size": 169, "filled": true, "color": "#111111", "opacity": 1, "yOffset": 7},
          "encoding": {
            "x": {"field": "t", "type": "temporal", "scale": {"domain": [1734677865000, 1735226865000], "nice": false}},
            "y": {"field": "l", "type": "quantitative", "scale": {"domain": [91321.8, 99758.5], "nice": false, "zero": false}}
          }
        },
        {
          "data": {"name": "signal"},
          "mark": {"type": "point", "shape": "M0,-1L0.87,-0.1L0.4,-0.1L0.4,1L-0.4,1L-0.4,-0.1L-0.87,-0.1Z", "size": 324, "filled": true, "fill": "#F2FBE6", "stroke": "#3CCB3C", "strokeWidth": 1.5, "opacity": 1},
          "encoding": {
            "x": {"field": "t", "type": "temporal", "scale": {"domain": [1734677865000, 1735226865000], "nice": false}},
            "y": {"field": "p", "type": "quantitative", "scale": {"domain": [91321.8, 99758.5], "nice": false, "zero": false}}
          }
        },
        {
          "data": {"values": [{"p": 98560.1}]},
          "mark": {"type": "rule", "color": "#C00000", "strokeWidth": 1},
          "encoding": {
            "y": {"field": "p", "type": "quantitative", "scale": {"domain": [91321.8, 99758.5], "nice": false, "zero": false}}
          }
        },
        {
          "data": {"values": [{"p": 98560.1}]},
          "mark": {"type": "point", "shape": "M0.16,-0.19L1.88,-0.19L1.88,0.19L0.16,0.19Z", "size": 2500, "filled": true, "color": "#C40000", "opacity": 1, "clip": false},
          "encoding": {
            "x": {"datum": 1735226865000, "type": "temporal", "scale": {"domain": [1734677865000, 1735226865000], "nice": false}},
            "y": {"field": "p", "type": "quantitative", "scale": {"domain": [91321.8, 99758.5], "nice": false, "zero": false}}
          }
        },
        {
          "data": {"values": [{"p": 98560.1}]},
          "mark": {"type": "text", "align": "left", "baseline": "middle", "dx": 6, "color": "white", "font": "DejaVu Sans", "fontSize": 8},
          "encoding": {
            "x": {"datum": 1735226865000, "type": "temporal", "scale": {"domain": [1734677865000, 1735226865000], "nice": false}},
            "y": {"field": "p", "type": "quantitative", "scale": {"domain": [91321.8, 99758.5], "nice": false, "zero": false}},
            "text": {"field": "p", "type": "quantitative", "format": ".2f"}
          }
        }
      ]
    },
    {
      "width": 1220,
      "height": 102,
      "title": {"text": "AO 634.121"},
      "data": {"name": "bars"},
      "transform": [{"window": [{"op": "lag", "field": "ao", "as": "aoPrev"}], "sort": [{"field": "t"}]}],
      "mark": {"type": "bar", "size": 4},
      "encoding": {
        "x": {"field": "t", "type": "temporal", "scale": {"domain": [1734677865000, 1735226865000], "nice": false},
          "axis": {"values": [1734678000000,1734692400000,1734706800000,1734721200000,1734735600000,1734750000000,1734764400000,1734778800000,1734793200000,1734807600000,1734822000000,1734836400000,1734850800000,1734865200000,1734879600000,1734894000000,1734908400000,1734922800000,1734937200000,1734951600000,1734966000000,1734980400000,1734994800000,1735009200000,1735023600000,1735038000000,1735052400000,1735066800000,1735081200000,1735095600000,1735110000000,1735124400000,1735138800000,1735153200000,1735167600000,1735182000000,1735196400000,1735210800000,1735225200000], "tickCount": 100, "labels": false, "ticks": false, "domain": false, "grid": true, "title": null}},
        "y": {"field": "ao", "type": "quantitative", "scale": {"domain": [-5503, 4574], "nice": false, "zero": false},
          "axis": {"orient": "right", "values": [-4978.571, 0, 4117.253], "tickCount": 100, "format": ".3f", "tickSize": 4, "labelPadding": 1, "grid": true, "gridOpacity": {"condition": {"test": "datum.value == 0", "value": 1}, "value": 0}, "domain": false, "labelFlush": false, "labelOverlap": false, "labelBound": false, "title": null}},
        "y2": {"datum": 0},
        "color": {"condition": {"test": "datum.aoPrev == null || datum.ao > datum.aoPrev", "value": "#008000"}, "value": "#FF0000"}
      }
    },
    {
      "width": 1220,
      "height": 101,
      "title": {"text": "AC -116.0685"},
      "data": {"name": "bars"},
      "transform": [{"window": [{"op": "lag", "field": "ac", "as": "acPrev"}], "sort": [{"field": "t"}]}],
      "mark": {"type": "bar", "size": 4},
      "encoding": {
        "x": {"field": "t", "type": "temporal", "scale": {"domain": [1734677865000, 1735226865000], "nice": false},
          "axis": {"values": [1734678000000,1734692400000,1734706800000,1734721200000,1734735600000,1734750000000,1734764400000,1734778800000,1734793200000,1734807600000,1734822000000,1734836400000,1734850800000,1734865200000,1734879600000,1734894000000,1734908400000,1734922800000,1734937200000,1734951600000,1734966000000,1734980400000,1734994800000,1735009200000,1735023600000,1735038000000,1735052400000,1735066800000,1735081200000,1735095600000,1735110000000,1735124400000,1735138800000,1735153200000,1735167600000,1735182000000,1735196400000,1735210800000,1735225200000], "tickCount": 100, "labels": false, "ticks": false, "domain": false, "grid": true, "title": null}},
        "y": {"field": "ac", "type": "quantitative", "scale": {"domain": [-1436, 1898], "nice": false, "zero": false},
          "axis": {"orient": "right", "values": [-1271.7297, 0, 1693.702], "tickCount": 100, "format": ".4f", "tickSize": 4, "labelPadding": 1, "grid": true, "gridOpacity": {"condition": {"test": "datum.value == 0", "value": 1}, "value": 0}, "domain": false, "labelFlush": false, "labelOverlap": false, "labelBound": false, "title": null}},
        "y2": {"datum": 0},
        "color": {"condition": {"test": "datum.acPrev != null && datum.ac > datum.acPrev", "value": "#008000"}, "value": "#FF0000"}
      }
    },
    {
      "width": 1220,
      "height": 84,
      "title": {"text": "Gator(13,8,5) 501.569 0.000"},
      "encoding": {
        "x": {"field": "t", "type": "temporal", "scale": {"domain": [1734677865000, 1735226865000], "nice": false},
          "axis": {"values": [1734678000000,1734692400000,1734706800000,1734721200000,1734735600000,1734750000000,1734764400000,1734778800000,1734793200000,1734807600000,1734822000000,1734836400000,1734850800000,1734865200000,1734879600000,1734894000000,1734908400000,1734922800000,1734937200000,1734951600000,1734966000000,1734980400000,1734994800000,1735009200000,1735023600000,1735038000000,1735052400000,1735066800000,1735081200000,1735095600000,1735110000000,1735124400000,1735138800000,1735153200000,1735167600000,1735182000000,1735196400000,1735210800000,1735225200000],
            "tickCount": 100, "grid": true, "domain": false, "ticks": true, "tickSize": 4,
            "tickOpacity": {"condition": {"test": "utchours(datum.value) % 8 == 7 && time(datum.value) <= 1735167600000", "value": 1}, "value": 0},
            "labelExpr": "time(datum.value) == 1734678000000 ? '20 Dec 2024' : (utchours(datum.value) % 8 == 7 && time(datum.value) <= 1735167600000 ? utcFormat(datum.value, '%d %b %H:%M') : '')",
            "labelAlign": "left", "labelBaseline": "top", "labelPadding": 1, "labelFlush": false, "labelOverlap": false, "labelBound": false, "title": null}}
      },
      "layer": [
        {
          "data": {"name": "gator"},
          "transform": [{"window": [{"op": "lag", "field": "gu", "as": "guPrev"}], "sort": [{"field": "t"}]}, {"filter": "isValid(datum.gu)"}],
          "mark": {"type": "bar", "size": 4},
          "encoding": {
            "y": {"field": "gu", "type": "quantitative", "scale": {"domain": [-2508, 2826], "nice": false, "zero": false},
              "axis": {"orient": "right", "values": [-2110.909, 0, 2493.562], "tickCount": 100, "format": ".3f", "tickSize": 4, "labelPadding": 1, "grid": false, "domain": false, "labelFlush": false, "labelOverlap": false, "labelBound": false, "title": null}},
            "y2": {"datum": 0},
            "color": {"condition": {"test": "datum.guPrev != null && datum.gu > datum.guPrev", "value": "#008000"}, "value": "#FF0000"}
          }
        },
        {
          "data": {"name": "gator"},
          "transform": [{"window": [{"op": "lag", "field": "gd", "as": "gdPrev"}], "sort": [{"field": "t"}]}, {"filter": "isValid(datum.gd)"}],
          "mark": {"type": "bar", "size": 4},
          "encoding": {
            "y": {"field": "gd", "type": "quantitative", "scale": {"domain": [-2508, 2826], "nice": false, "zero": false}},
            "y2": {"datum": 0},
            "color": {"condition": {"test": "datum.gdPrev != null && abs(datum.gd) > abs(datum.gdPrev)", "value": "#008000"}, "value": "#FF0000"}
          }
        },
        {
          "data": {"values": [{"z": 0}]},
          "mark": {"type": "rule", "color": "#E4E4E4", "strokeDash": [4, 3], "strokeWidth": 1},
          "encoding": {"y": {"field": "z", "type": "quantitative", "scale": {"domain": [-2508, 2826], "nice": false, "zero": false}}}
        }
      ]
    }
  ]
}
